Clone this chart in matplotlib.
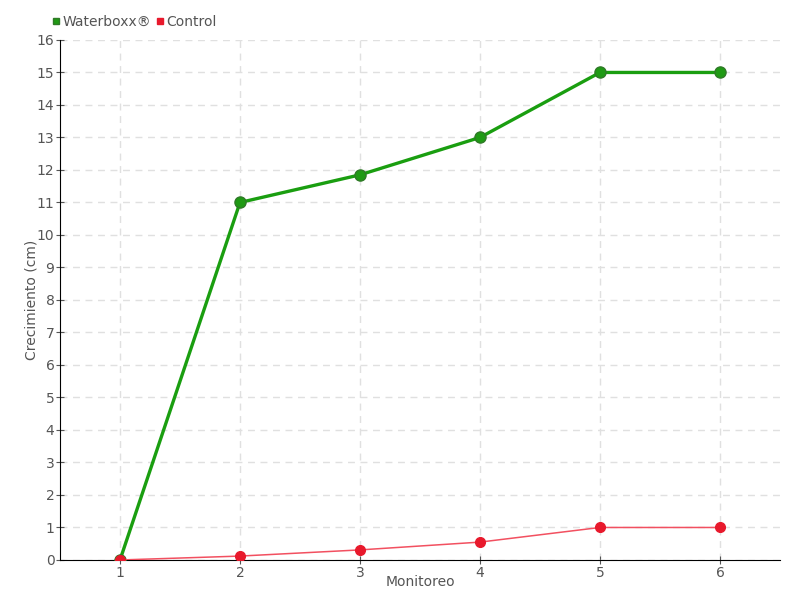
import matplotlib
matplotlib.use("Agg")
import matplotlib.pyplot as plt

monitoreo = [1, 2, 3, 4, 5, 6]
waterboxx = [0, 11, 11.85, 13, 15, 15]
control = [0, 0.12, 0.31, 0.55, 1, 1]

plt.rcParams['font.family'] = ['DejaVu Sans']

fig = plt.figure(figsize=(8, 6), dpi=100)
ax = fig.add_axes([0.075, 0.0667, 0.9, 0.8667])

ax.plot(monitoreo, waterboxx, '-o', color='#1a9e10', lw=2.4, ms=8,
        mfc='#1f9a14', mec='#2f7a27', mew=1, label='Waterboxx®', zorder=3)
ax.plot(monitoreo, control, '-o', color='#f25060', lw=1.1, ms=7,
        mfc='#e8192c', mec='#e8192c', label='Control', zorder=4)

ax.set_xlim(0.5, 6.5)
ax.set_ylim(0, 16)
ax.set_xticks(monitoreo)
ax.set_yticks(range(0, 17))
ax.grid(True, color='#e0e0e0', linestyle=(0, (5, 4)), lw=1)
ax.set_axisbelow(True)
for s in ['top', 'right']:
    ax.spines[s].set_visible(False)
ax.spines['left'].set_color('black')
ax.spines['bottom'].set_color('black')
ax.tick_params(colors='#555555', labelsize=10, pad=1)
ax.tick_params(axis='y', direction='inout', length=6, colors='#555555')
ax.tick_params(axis='x', direction='inout', length=6, colors='#555555')
ax.set_xlabel('Monitoreo', color='#555555', fontsize=10, labelpad=-3)
ax.set_ylabel('Crecimiento (cm)', color='#555555', fontsize=10, labelpad=-1)

leg = ax.legend(loc='lower left', bbox_to_anchor=(-0.025, 1.0), ncol=2, frameon=False,
                handlelength=0.4, handletextpad=0.25, columnspacing=0.5, fontsize=10,
                markerscale=0.6, borderaxespad=0.4)
for t in leg.get_texts():
    t.set_color('#555555')
for h in leg.legend_handles:
    h.set_linestyle('None')
    h.set_marker('s')

fig.savefig('out.png')
